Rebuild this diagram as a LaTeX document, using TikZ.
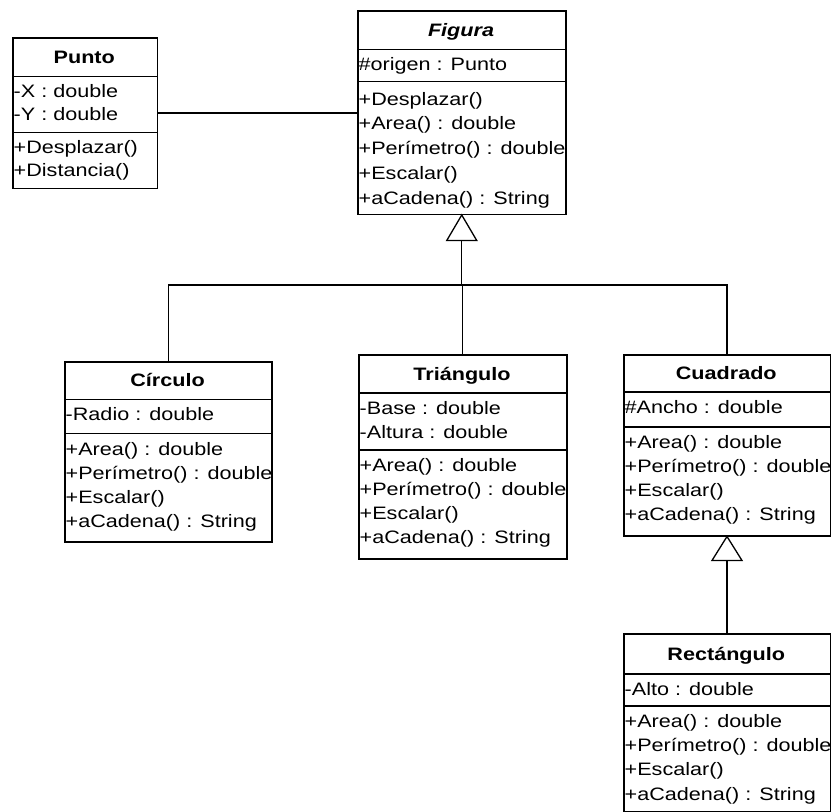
\documentclass[tikz,border=0pt]{standalone}
\usepackage{fontspec}
\setmainfont{Liberation Sans}[FakeStretch=1.2]
\tikzset{
  classbox/.style={draw, line width=1.5pt, anchor=north west, inner sep=0pt, fill=white},
  sepline/.style={line width=1.5pt},
  ctitle/.style={anchor=base, inner sep=0pt, font=\fontsize{18}{22}\selectfont\bfseries},
  cline/.style={anchor=base west, inner sep=0pt, font=\fontsize{18}{22}\selectfont},
  conn/.style={line width=1.3pt},
  gentri/.style={line width=1.3pt, fill=white}
}
\newcommand{\umlclass}[8]{%
  \pgfmathsetmacro\umlbw{#3-#2}\pgfmathsetmacro\umlbh{#7-#4}%
  \node[classbox, minimum width=\umlbw pt, minimum height=\umlbh pt] (#1) at (#2,#4) {};
  \draw[sepline] (#2,#5) -- (#3,#5);
  \draw[sepline] (#2,#6) -- (#3,#6);
  \pgfmathsetmacro\umlty{(#4+#5)/2+6.5}%
  \node[ctitle] (#1-t) at ({(#2+#3)/2},\umlty) {#8};
}
\newcommand{\umllines}[5]{%
  \foreach \umltxt [count=\umli from 0] in {#5} {
    \node[cline] (#1-\umli) at (#2+1.5, #3+\umli*#4) {\umltxt};
  }
}
\begin{document}
\begin{tikzpicture}[x=1pt,y=-1pt]
\fill[white] (0,0) rectangle (831,812);
\useasboundingbox (0,0) rectangle (831,812);

% Punto
\umlclass{punto}{12}{156.5}{37}{76.5}{132.5}{187.5}{Punto}
\umllines{punto-a}{12}{97.5}{22.5}{-X : double,-Y : double}
\umllines{punto-o}{12}{153.5}{22.5}{+Desplazar(),+Distancia()}

% Figura
\umlclass{fig}{357}{565}{10}{49.3}{81.7}{213.5}{\itshape Figura}
\umllines{fig-a}{357}{70}{24.75}{\#origen : Punto}
\umllines{fig-o}{357}{105}{24.75}{+Desplazar(),+Area() : double,+Perímetro() : double,+Escalar(),+aCadena() : String}

% Circulo
\umlclass{circ}{64}{271}{361}{399.5}{433.3}{541}{Círculo}
\umllines{circ-a}{64}{420}{24.3}{-Radio : double}
\umllines{circ-o}{64}{455}{24.3}{+Area() : double,+Perímetro() : double,+Escalar(),+aCadena() : String}

% Triangulo
\umlclass{tri}{358}{566}{354}{393}{450}{558}{Triángulo}
\umllines{tri-a}{358}{414}{24.3}{-Base : double,-Altura : double}
\umllines{tri-o}{358}{471}{24.3}{+Area() : double,+Perímetro() : double,+Escalar(),+aCadena() : String}

% Cuadrado
\umlclass{cuad}{623}{829.5}{354}{392}{427}{535}{Cuadrado}
\umllines{cuad-a}{623}{413}{24.3}{\#Ancho : double}
\umllines{cuad-o}{623}{448}{24.3}{+Area() : double,+Perímetro() : double,+Escalar(),+aCadena() : String}

% Rectangulo
\umlclass{rect}{623}{829.5}{633}{674}{706}{811}{Rectángulo}
\umllines{rect-a}{623}{695}{24.3}{-Alto : double}
\umllines{rect-o}{623}{727.3}{24.3}{+Area() : double,+Perímetro() : double,+Escalar(),+aCadena() : String}

% association Punto -- Figura
\draw[conn] (punto.east) -- (punto.east -| fig.west);

% generalization to Figura
\coordinate (bus) at (0,285);
\coordinate (figbase) at ([yshift=-25.5pt]fig.south);
\draw[conn] (figbase) -- (figbase |- bus);
\draw[conn] (circ.north) -- (circ.north |- bus) -- (cuad.north |- bus) -- (cuad.north);
\draw[conn] (tri.north) -- (tri.north |- bus);
\draw[gentri] (fig.south) -- ([xshift=-15pt]figbase) -- ([xshift=15pt]figbase) -- cycle;

% generalization Rectangulo -> Cuadrado
\coordinate (cuadbase) at ([yshift=-24pt]cuad.south);
\draw[conn] (cuadbase) -- (rect.north);
\draw[gentri] (cuad.south) -- ([xshift=-15pt]cuadbase) -- ([xshift=15pt]cuadbase) -- cycle;
\end{tikzpicture}
\end{document}
